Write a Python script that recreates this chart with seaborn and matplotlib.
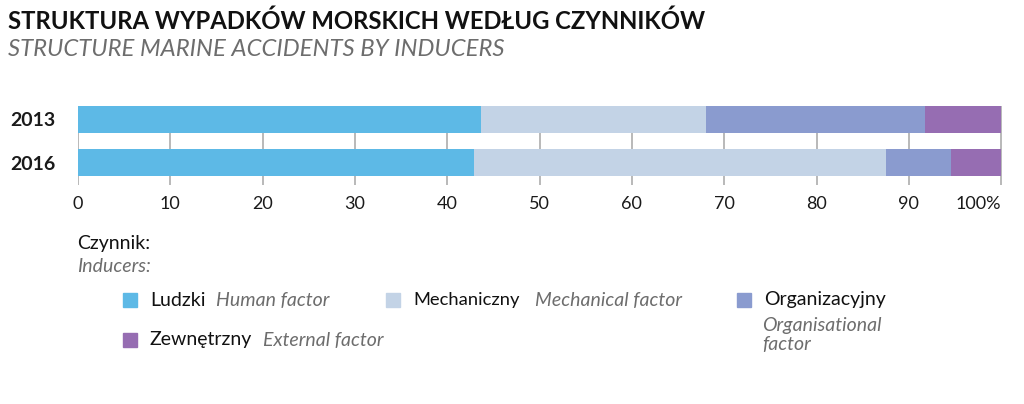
import matplotlib
matplotlib.use("Agg")
import matplotlib.pyplot as plt
from matplotlib.patches import Rectangle
from matplotlib import font_manager
import seaborn as sns
import numpy as np
import pandas as pd

years = ["2013", "2016"]
factors_pl = ["Ludzki", "Mechaniczny", "Organizacyjny", "Zewnętrzny"]
factors_en = ["Human factor", "Mechanical factor", "Organisational\nfactor", "External factor"]
human = [43.7, 42.9]
mechanical = [24.3, 44.6]
organisational = [23.7, 7.1]
external = [8.3, 5.4]
colors = ["#5DB9E6", "#C3D3E6", "#8A9BCF", "#966DB2"]
xticks = [0, 10, 20, 30, 40, 50, 60, 70, 80, 90, 100]
xticklabels = ["0", "10", "20", "30", "40", "50", "60", "70", "80", "90", "100%"]

sns.set_theme(style="white")
plt.rcParams['font.family'] = ['Lato', 'DejaVu Sans']

installed = {f.name for f in font_manager.fontManager.ttflist}
narrow = 'Liberation Sans Narrow' in installed
title_family = ['Liberation Sans Narrow', 'Lato'] if narrow else ['Lato']
title_size = 21 if narrow else 17.2

W, H = 1024, 404
fig = plt.figure(figsize=(W / 100, H / 100), dpi=100)
ax = fig.add_axes([78 / W, (H - 185) / H, (1003 - 78) / W, (185 - 106) / H])

series = [human, mechanical, organisational, external]
cum = np.cumsum(np.array(series), axis=0)
for i in range(len(series) - 1, -1, -1):
    df = pd.DataFrame({"year": years, "value": cum[i]})
    sns.barplot(data=df, x="value", y="year", orient="h", color=colors[i],
                saturation=1, width=0.62, ax=ax, zorder=2, linewidth=0)

ax.set_xlim(0, 100.2)
ax.set_ylim(1.52, -0.31)
ax.set_xticks(xticks)
ax.set_xticklabels(xticklabels, fontsize=13, color="#1a1a1a")
ax.get_xticklabels()[-1].set_horizontalalignment("right")
for x in xticks:
    ax.axvline(x, color="#b3b3b3", lw=1.3, zorder=1)
ax.set_yticks([0, 1])
ax.set_yticklabels(years, fontsize=14, fontweight="bold", color="#1a1a1a")
ax.tick_params(axis="x", length=0, pad=8)
ax.tick_params(axis="y", length=0, pad=16)
ax.set_xlabel("")
ax.set_ylabel("")
for s in ax.spines.values():
    s.set_visible(False)

def fx(px):
    return px / W

def fy(py):
    return 1 - py / H

fig.text(fx(8), fy(21), "STRUKTURA WYPADKÓW MORSKICH WEDŁUG CZYNNIKÓW",
         fontsize=title_size, color="#111111", va="center", ha="left",
         fontweight="bold", family=title_family)
fig.text(fx(8), fy(49), "STRUCTURE MARINE ACCIDENTS BY INDUCERS",
         fontsize=title_size, color="#6d6d6d", va="center", ha="left", style="italic",
         family=title_family)

fig.text(fx(77), fy(244), "Czynnik:", fontsize=14, color="#111111", va="center")
fig.text(fx(77), fy(267), "Inducers:", fontsize=14, color="#6d6d6d", va="center", style="italic")

legend_pos = [(123, 300, 216), (386, 300, 535), (737, 300, 762), (123, 340, 263)]
pl_sizes = [14, 13.2, 14, 14]
for (sx, sy, ex), c, pl, en, ps in zip(legend_pos, colors, factors_pl, factors_en, pl_sizes):
    fig.patches.append(Rectangle((fx(sx), fy(sy + 7)), 14 / W, 14 / H,
                                 transform=fig.transFigure, color=c, figure=fig))
    fig.text(fx(sx + 27), fy(sy), pl, fontsize=ps, color="#111111", va="center")
    if "\n" in en:
        fig.text(fx(ex), fy(sy + 17), en, fontsize=14, color="#6d6d6d", va="top",
                 style="italic", linespacing=1.15)
    else:
        fig.text(fx(ex), fy(sy), en, fontsize=14, color="#6d6d6d", va="center", style="italic")

fig.savefig("out.png", dpi=100, facecolor="white")
